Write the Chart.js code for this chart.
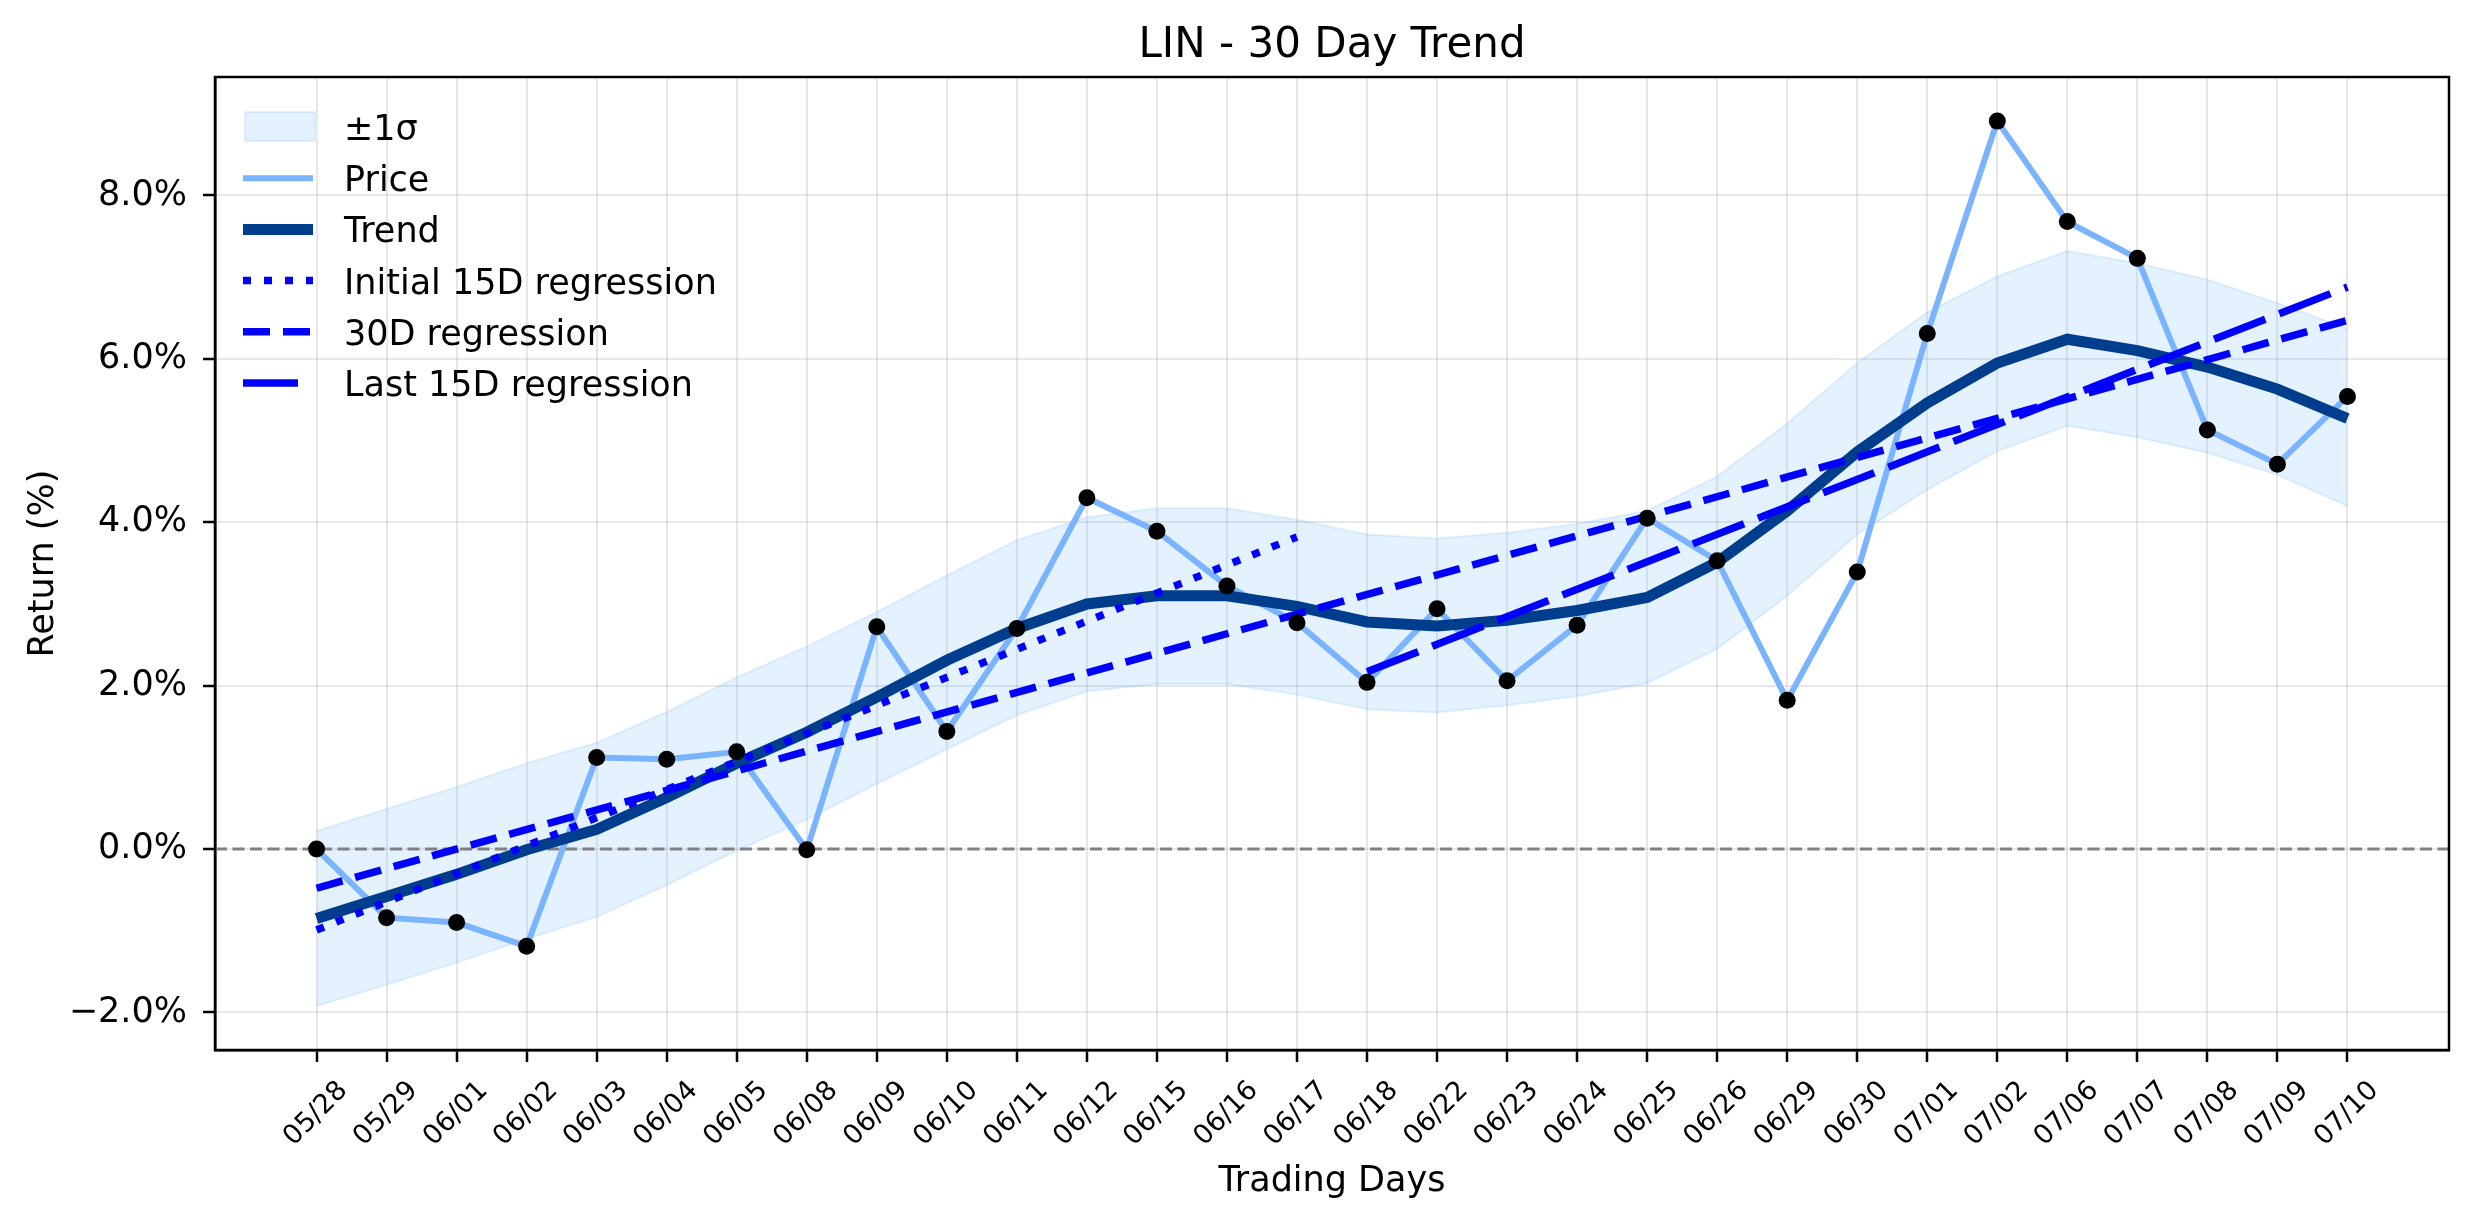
<!DOCTYPE html>
<html>
<head>
<meta charset="utf-8">
<script src="https://cdn.jsdelivr.net/npm/chart.js@4.4.1/dist/chart.umd.min.js"></script>
<style>
    html, body { margin: 0; padding: 0; background: #fff; }
</style>
</head>
<body>
<canvas id="trendChart" width="2474" height="1224"></canvas>
<script>
    // trading days on the x axis
    var days = ['05/28', '05/29', '06/01', '06/02', '06/03', '06/04', '06/05', '06/08', '06/09', '06/10',
                '06/11', '06/12', '06/15', '06/16', '06/17', '06/18', '06/22', '06/23', '06/24', '06/25',
                '06/26', '06/29', '06/30', '07/01', '07/02', '07/06', '07/07', '07/08', '07/09', '07/10'];

    // cumulative return (%)
    var price = [0.00, -0.84, -0.90, -1.19, 1.12, 1.10, 1.19, -0.01, 2.72, 1.44,
                 2.70, 4.30, 3.89, 3.22, 2.77, 2.04, 2.94, 2.06, 2.74, 4.05,
                 3.53, 1.82, 3.39, 6.31, 8.91, 7.68, 7.23, 5.13, 4.71, 5.54];

    var trend = [-0.85, -0.58, -0.31, -0.01, 0.24, 0.63, 1.05, 1.43, 1.86, 2.31,
                 2.70, 3.00, 3.10, 3.10, 2.97, 2.78, 2.73, 2.80, 2.92, 3.08,
                 3.51, 4.14, 4.86, 5.46, 5.95, 6.24, 6.10, 5.90, 5.63, 5.27];

    var sigmaUpper = [0.22, 0.49, 0.76, 1.05, 1.30, 1.68, 2.10, 2.48, 2.90, 3.35,
                      3.78, 4.06, 4.17, 4.17, 4.03, 3.85, 3.80, 3.87, 3.98, 4.14,
                      4.56, 5.21, 5.95, 6.57, 7.01, 7.32, 7.17, 6.97, 6.68, 6.37];

    var sigmaLower = [-1.92, -1.66, -1.39, -1.10, -0.83, -0.44, -0.02, 0.36, 0.80, 1.22,
                      1.64, 1.93, 2.02, 2.02, 1.89, 1.71, 1.67, 1.76, 1.87, 2.03,
                      2.45, 3.10, 3.85, 4.40, 4.87, 5.18, 5.04, 4.85, 4.58, 4.20];

    // regression lines: [start value, end value] and [start day, end day]
    var initialReg = [-0.99, 3.82];
    var initialDays = [0, 14];
    var fullReg = [-0.48, 6.47];
    var fullDays = [0, 29];
    var lastReg = [2.17, 6.88];
    var lastDays = [15, 29];

    var yTicks = [-2, 0, 2, 4, 6, 8];

    function series(values) {
        return values.map(function(v, i) { return {x: i, y: v}; });
    }
    function segment(values, range) {
        return [{x: range[0], y: values[0]}, {x: range[1], y: values[1]}];
    }

    var FONT = 'DejaVu Sans';
    var bandFill = 'rgba(77, 163, 255, 0.15)';
    var gridColor = 'rgba(176, 176, 176, 0.3)';
    var xMin = -1.45, xMax = 30.45;

    Chart.defaults.font.family = FONT;
    Chart.defaults.color = '#000';

    // matplotlib-style title, legend and frame
    var decorations = {
        id: 'decorations',
        afterDatasetsDraw: function(chart) {
            var c = chart.ctx;
            var area = chart.chartArea;
            c.save();

            c.strokeStyle = '#000';
            c.lineWidth = 2.5;
            c.strokeRect(area.left, area.top, area.right - area.left, area.bottom - area.top);

            c.fillStyle = '#000';
            c.font = '42px "' + FONT + '"';
            c.textAlign = 'center';
            c.textBaseline = 'alphabetic';
            c.fillText('LIN - 30 Day Trend', (area.left + area.right) / 2, 57);

            var items = chart.data.datasets.filter(function(d) { return d.legendRow !== undefined; });
            items.forEach(function(d) {
                var y = area.top + 50 + d.legendRow * 51.2;
                var x0 = area.left + 28, x1 = area.left + 98;
                if (d.fill) {
                    c.fillStyle = d.backgroundColor;
                    c.fillRect(x0 + 2, y - 15, 70, 29);
                    c.strokeStyle = d.borderColor;
                    c.lineWidth = 2;
                    c.strokeRect(x0 + 2, y - 15, 70, 29);
                } else {
                    c.strokeStyle = d.borderColor;
                    c.lineWidth = d.borderWidth;
                    c.setLineDash(d.borderDash || []);
                    c.beginPath();
                    c.moveTo(x0, y);
                    c.lineTo(x1, y);
                    c.stroke();
                    c.setLineDash([]);
                }
                c.fillStyle = '#000';
                c.font = '35px "' + FONT + '"';
                c.textAlign = 'left';
                c.fillText(d.label, area.left + 129, y + 13);
            });
            c.restore();
        }
    };

    var ctx = document.getElementById('trendChart').getContext('2d');
    var trendChart = new Chart(ctx, {
        type: 'line',
        data: {
            datasets: [{
                label: '\u00b11\u03c3',
                data: series(sigmaUpper),
                fill: '+1',
                backgroundColor: bandFill,
                borderColor: bandFill,
                borderWidth: 2,
                pointRadius: 0,
                order: 10,
                legendRow: 0
            }, {
                label: 'lower',
                data: series(sigmaLower),
                fill: false,
                borderColor: bandFill,
                borderWidth: 2,
                pointRadius: 0,
                order: 10
            }, {
                label: 'zero',
                data: [{x: xMin, y: 0}, {x: xMax, y: 0}],
                borderColor: '#808080',
                borderWidth: 3,
                borderDash: [12, 5.5],
                pointRadius: 0,
                order: 9
            }, {
                label: 'Price',
                data: series(price),
                borderColor: '#7ab4ff',
                borderWidth: 6,
                pointRadius: 0,
                order: 8,
                legendRow: 1
            }, {
                label: 'Trend',
                data: series(trend),
                borderColor: '#003d8c',
                borderWidth: 11,
                pointRadius: 0,
                order: 7,
                legendRow: 2
            }, {
                label: 'Initial 15D regression',
                data: segment(initialReg, initialDays),
                borderColor: '#0000ff',
                borderWidth: 7.5,
                borderDash: [8, 13],
                pointRadius: 0,
                order: 6,
                legendRow: 3
            }, {
                label: '30D regression',
                data: segment(fullReg, fullDays),
                borderColor: '#0000ff',
                borderWidth: 7.5,
                borderDash: [27, 13],
                pointRadius: 0,
                order: 5,
                legendRow: 4
            }, {
                label: 'Last 15D regression',
                data: segment(lastReg, lastDays),
                borderColor: '#0000ff',
                borderWidth: 7.5,
                borderDash: [55, 15],
                pointRadius: 0,
                order: 4,
                legendRow: 5
            }, {
                label: 'points',
                data: series(price),
                showLine: false,
                pointRadius: 8.5,
                pointBackgroundColor: '#000',
                pointBorderWidth: 0,
                order: 0
            }]
        },
        options: {
            responsive: false,
            animation: false,
            devicePixelRatio: 1,
            layout: { padding: { top: 77, right: 25, left: 0, bottom: 0 } },
            plugins: {
                legend: { display: false },
                title: { display: false },
                tooltip: { enabled: false }
            },
            scales: {
                x: {
                    type: 'linear',
                    min: xMin,
                    max: xMax,
                    afterBuildTicks: function(scale) {
                        scale.ticks = days.map(function(d, i) { return {value: i}; });
                    },
                    afterFit: function(scale) { scale.height = 174; },
                    ticks: {
                        autoSkip: false,
                        minRotation: 45,
                        maxRotation: 45,
                        labelOffset: 27,
                        padding: 13,
                        color: '#000',
                        font: { size: 27 },
                        callback: function(v) { return days[v]; }
                    },
                    grid: { color: gridColor, lineWidth: 2, tickColor: '#000', tickLength: 12, tickWidth: 2.5 },
                    border: { display: true, color: '#000', width: 2.5 },
                    title: {
                        display: true,
                        text: 'Trading Days',
                        color: '#000',
                        font: { size: 35 },
                        padding: { top: 0, bottom: 21 }
                    }
                },
                y: {
                    min: -2.46,
                    max: 9.45,
                    afterBuildTicks: function(scale) {
                        scale.ticks = yTicks.map(function(v) { return {value: v}; });
                    },
                    afterFit: function(scale) { scale.width = 215; },
                    ticks: {
                        padding: 16,
                        color: '#000',
                        font: { size: 35 },
                        callback: function(v) { return (v < 0 ? '\u2212' : '') + Math.abs(v).toFixed(1) + '%'; }
                    },
                    grid: { color: gridColor, lineWidth: 2, tickColor: '#000', tickLength: 12, tickWidth: 2.5 },
                    border: { display: true, color: '#000', width: 2.5 },
                    title: {
                        display: true,
                        text: 'Return (%)',
                        color: '#000',
                        font: { size: 35 },
                        padding: { top: 23, bottom: 0 }
                    }
                }
            }
        },
        plugins: [decorations]
    });
</script>
</body>
</html>
